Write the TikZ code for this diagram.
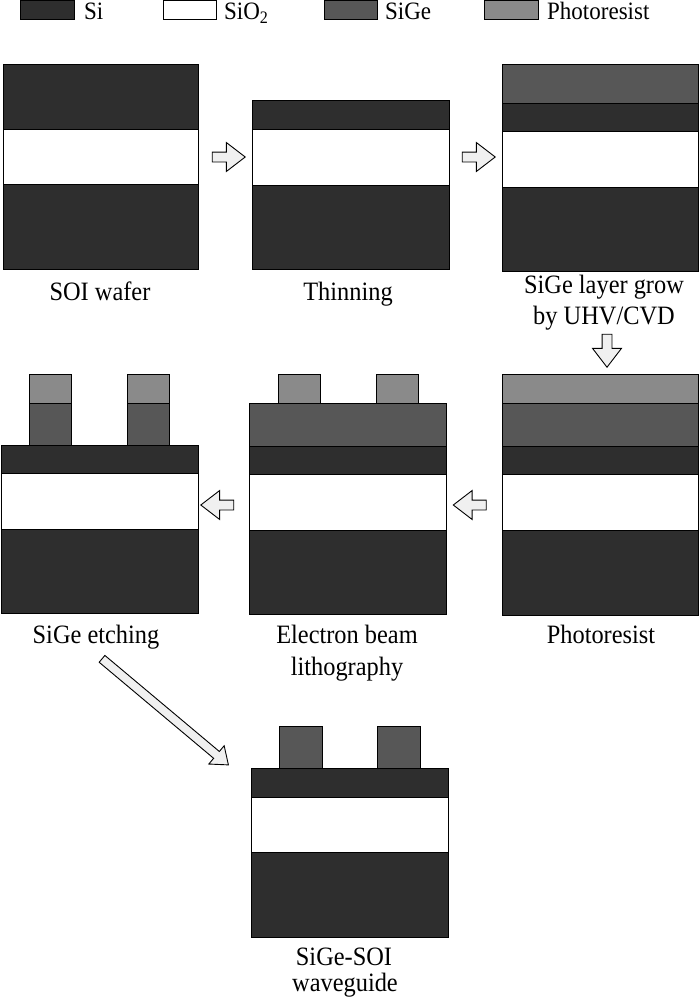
\documentclass[tikz,border=0pt]{standalone}
\usepackage{fontspec}
\setmainfont{Liberation Serif}[FakeStretch=0.92]
\usepackage{tikz}
\usetikzlibrary{shapes.arrows}

\definecolor{sicol}{HTML}{2E2E2E}
\definecolor{sigecol}{HTML}{575757}
\definecolor{prcol}{HTML}{8A8A8A}
\definecolor{arrcol}{HTML}{F0F0F0}

\begin{document}
\begin{tikzpicture}[x=1pt, y=-1pt,
  si/.style={fill=sicol, draw=black, line width=1pt},
  ox/.style={fill=white, draw=black, line width=1pt},
  sige/.style={fill=sigecol, draw=black, line width=1pt},
  pr/.style={fill=prcol, draw=black, line width=1pt},
  lbl/.style={anchor=base, inner sep=0pt, font=\fontsize{26.5}{30}\selectfont},
  key/.style={anchor=base west, inner sep=0pt, font=\fontsize{25}{28}\selectfont},
  blockarrow/.style={single arrow, draw=black, fill=arrcol, line width=0.9pt,
    inner sep=0pt, inner ysep=4.5pt, single arrow head extend=9.5pt,
    single arrow tip angle=75, minimum height=33pt}]
  \useasboundingbox (0,0) rectangle (700,999);

  % legend
  \draw [si] (20,0.5) rectangle (74,19);
  \node (lsi) [key] at (84,19.5) {Si};
  \draw [ox] (163,0.5) rectangle (216,19);
  \node (lox) [key] at (224,19.5) {SiO\textsubscript{2}};
  \draw [sige] (324,0.5) rectangle (377,19);
  \node (lsige) [key] at (385,19.5) {SiGe};
  \draw [pr] (484,0.5) rectangle (538,19);
  \node (lpr) [key] at (547,19.5) {Photoresist};

  % SOI wafer
  \draw [si] (3,64) rectangle (198,129);
  \draw [ox] (3,129) rectangle (198,184);
  \draw [si] (3,184) rectangle (198,269);
  \node (t1) [lbl] at (100,300) {SOI wafer};

  % thinning
  \draw [si] (252,100) rectangle (449,129);
  \draw [ox] (252,129) rectangle (449,185);
  \draw [si] (252,185) rectangle (449,269);
  \node (t2) [lbl] at (348,300) {Thinning};

  % SiGe growth
  \draw [sige] (502,64) rectangle (698,103);
  \draw [si] (502,103) rectangle (698,131);
  \draw [ox] (502,131) rectangle (698,187);
  \draw [si] (502,187) rectangle (698,271);
  \node (t3a) [lbl] at (604,293) {SiGe layer grow};
  \node (t3b) [lbl] at (604,324) {by UHV/CVD};

  % photoresist
  \draw [pr] (502,374) rectangle (698,403);
  \draw [sige] (502,403) rectangle (698,446);
  \draw [si] (502,446) rectangle (698,474);
  \draw [ox] (502,474) rectangle (698,530);
  \draw [si] (502,530) rectangle (698,615);
  \node (t4) [lbl] at (601,643) {Photoresist};

  % electron beam lithography
  \draw [pr] (278,374) rectangle (320,403);
  \draw [pr] (376,374) rectangle (418,403);
  \draw [sige] (249,403) rectangle (446,446);
  \draw [si] (249,446) rectangle (446,474);
  \draw [ox] (249,474) rectangle (446,530);
  \draw [si] (249,530) rectangle (446,614);
  \node (t5a) [lbl] at (347,643) {Electron beam};
  \node (t5b) [lbl] at (347,675) {lithography};

  % SiGe etching
  \draw [pr] (29,374) rectangle (71,403);
  \draw [sige] (29,403) rectangle (71,445);
  \draw [pr] (127,374) rectangle (169,403);
  \draw [sige] (127,403) rectangle (169,445);
  \draw [si] (1,445) rectangle (198,473);
  \draw [ox] (1,473) rectangle (198,529);
  \draw [si] (1,529) rectangle (198,613);
  \node (t6) [lbl] at (96,643) {SiGe etching};

  % waveguide
  \draw [sige] (279,726) rectangle (322,768);
  \draw [sige] (377,726) rectangle (420,768);
  \draw [si] (251,768) rectangle (448,797);
  \draw [ox] (251,797) rectangle (448,852);
  \draw [si] (251,852) rectangle (448,937);
  \node (t7a) [lbl] at (344,965) {SiGe-SOI};
  \node (t7b) [lbl] at (345,991) {waveguide};

  % process arrows
  \node (a12) [blockarrow] at (225.5,157) {};
  \node (a23) [blockarrow] at (475.5,157) {};
  \node (a34) [blockarrow, rotate=-90] at (607,347.5) {};
  \node (a45) [blockarrow, rotate=180] at (473,505) {};
  \node (a56) [blockarrow, rotate=180] at (220.5,505) {};
  \node (a67) [blockarrow, rotate=-40, minimum height=165pt, inner ysep=4pt,
    single arrow head extend=7.5pt] at (163,710) {};
\end{tikzpicture}
\end{document}
